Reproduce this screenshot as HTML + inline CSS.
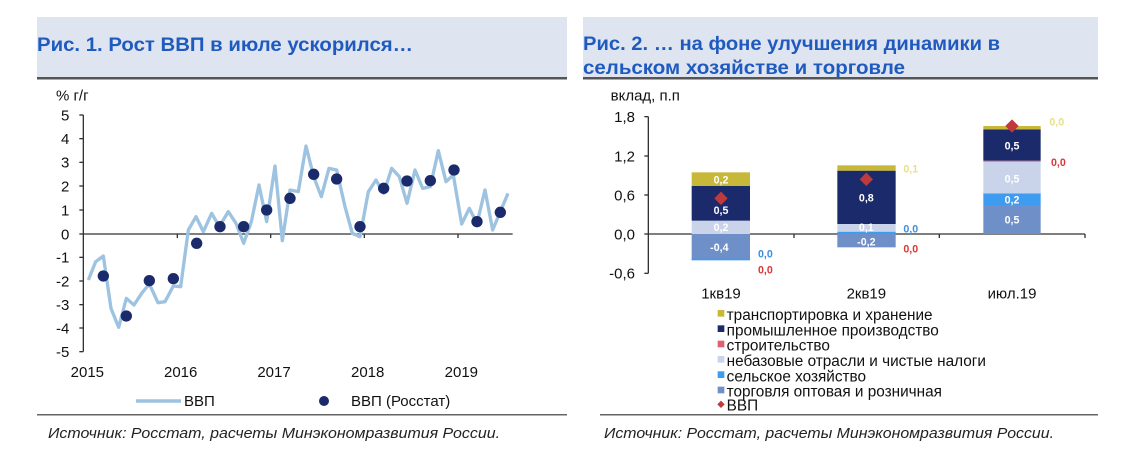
<!DOCTYPE html>
<html><head><meta charset="utf-8"><style>
body{margin:0;width:1134px;height:455px;background:#fff;overflow:hidden;font-family:"Liberation Sans","DejaVu Sans",sans-serif;}
svg{position:absolute;left:0;top:0}
</style></head><body>
<svg width="1134" height="455" viewBox="0 0 1134 455" xmlns="http://www.w3.org/2000/svg" font-family="Liberation Sans, DejaVu Sans, sans-serif">
<rect x="37" y="17" width="530" height="60" fill="#dfe4f1"/>
<rect x="583" y="17" width="515" height="60" fill="#dfe4f1"/>
<rect x="37" y="77" width="530" height="2.5" fill="#555"/>
<rect x="583" y="77" width="515" height="2.5" fill="#555"/>
<text x="37" y="51" font-size="19" font-weight="bold" fill="#1f5bbf" textLength="376" lengthAdjust="spacingAndGlyphs">Рис. 1. Рост ВВП в июле ускорился…</text>
<text x="583" y="50" font-size="19" font-weight="bold" fill="#1f5bbf" textLength="417" lengthAdjust="spacingAndGlyphs">Рис. 2. … на фоне улучшения динамики в</text>
<text x="583" y="74" font-size="19" font-weight="bold" fill="#1f5bbf" textLength="322" lengthAdjust="spacingAndGlyphs">сельском хозяйстве и торговле</text>
<rect x="37" y="414" width="530" height="1.5" fill="#666"/>
<rect x="600" y="414" width="498" height="1.5" fill="#666"/>
<text x="48" y="438" font-size="14.5" font-style="italic" fill="#222" textLength="452" lengthAdjust="spacingAndGlyphs">Источник: Росстат, расчеты Минэкономразвития России.</text>
<text x="604" y="438" font-size="14.5" font-style="italic" fill="#222" textLength="450" lengthAdjust="spacingAndGlyphs">Источник: Росстат, расчеты Минэкономразвития России.</text>

<!-- left chart -->
<g transform="translate(30,80) scale(0.33333)" font-size="45" fill="#111">
<text x="78" y="62">% г/г</text>
<line x1="160" y1="105" x2="160" y2="815" stroke="#333" stroke-width="4"/>
<g stroke="#333" stroke-width="4">
<line x1="148" y1="105" x2="160" y2="105"/><line x1="148" y1="176" x2="160" y2="176"/><line x1="148" y1="247" x2="160" y2="247"/><line x1="148" y1="318" x2="160" y2="318"/><line x1="148" y1="390" x2="160" y2="390"/><line x1="148" y1="462" x2="160" y2="462"/><line x1="148" y1="532" x2="160" y2="532"/><line x1="148" y1="603" x2="160" y2="603"/><line x1="148" y1="674" x2="160" y2="674"/><line x1="148" y1="744" x2="160" y2="744"/><line x1="148" y1="815" x2="160" y2="815"/>
<line x1="160" y1="462" x2="1448" y2="462"/>
<line x1="442" y1="462" x2="442" y2="474"/><line x1="722" y1="462" x2="722" y2="474"/><line x1="1003" y1="462" x2="1003" y2="474"/><line x1="1284" y1="462" x2="1284" y2="474"/>
</g>
<g text-anchor="end">
<text x="118" y="121">5</text><text x="118" y="192">4</text><text x="118" y="263">3</text><text x="118" y="334">2</text><text x="118" y="406">1</text><text x="118" y="478">0</text><text x="118" y="548">-1</text><text x="118" y="619">-2</text><text x="118" y="690">-3</text><text x="118" y="760">-4</text><text x="118" y="831">-5</text>
</g>
<g text-anchor="middle">
<text x="172" y="891">2015</text><text x="452" y="891">2016</text><text x="732" y="891">2017</text><text x="1013" y="891">2018</text><text x="1294" y="891">2019</text>
</g>
<polyline fill="none" stroke="#9dc3e0" stroke-width="10" stroke-linejoin="round" points="175,600 197,545 220,528 243,685 266,742 289,655 312,675 335,640 358,612 384,668 405,665 430,618 452,620 475,450 498,410 520,455 545,400 568,440 595,395 618,430 641,490 664,425 687,315 710,425 735,258 757,482 780,330 805,335 828,198 851,290 874,350 897,265 920,270 945,380 967,460 990,470 1015,335 1038,300 1061,340 1085,265 1108,290 1131,370 1155,270 1178,325 1201,320 1225,212 1248,305 1270,285 1295,432 1318,385 1341,430 1365,330 1388,450 1411,395 1434,340"/>
<g fill="#1b2a6b">
<circle cx="220" cy="588" r="17"/><circle cx="289" cy="708" r="17"/><circle cx="358" cy="602" r="17"/><circle cx="430" cy="596" r="17"/><circle cx="500" cy="490" r="17"/><circle cx="570" cy="440" r="17"/><circle cx="641" cy="440" r="17"/><circle cx="710" cy="390" r="17"/><circle cx="780" cy="355" r="17"/><circle cx="851" cy="283" r="17"/><circle cx="920" cy="297" r="17"/><circle cx="990" cy="440" r="17"/><circle cx="1061" cy="325" r="17"/><circle cx="1131" cy="303" r="17"/><circle cx="1201" cy="302" r="17"/><circle cx="1272" cy="270" r="17"/><circle cx="1341" cy="425" r="17"/><circle cx="1411" cy="397" r="17"/>
</g>
</g>
<line x1="136" y1="401" x2="181" y2="401" stroke="#9dc3e0" stroke-width="3.5"/>
<text x="184" y="406" font-size="15" fill="#111">ВВП</text>
<circle cx="324" cy="401" r="5" fill="#1b2a6b"/>
<text x="351" y="406" font-size="15" fill="#111">ВВП (Росстат)</text>

<!-- right chart -->
<g transform="translate(590,90) scale(0.33333)" font-size="45" fill="#111">
<text x="62" y="32">вклад, п.п</text>
<line x1="175" y1="80" x2="175" y2="550" stroke="#333" stroke-width="4"/>
<g stroke="#333" stroke-width="4">
<line x1="163" y1="80" x2="175" y2="80"/><line x1="163" y1="198" x2="175" y2="198"/><line x1="163" y1="315" x2="175" y2="315"/><line x1="163" y1="432" x2="175" y2="432"/><line x1="163" y1="550" x2="175" y2="550"/>
<line x1="175" y1="432" x2="1485" y2="432"/>
<line x1="612" y1="432" x2="612" y2="444"/><line x1="1048" y1="432" x2="1048" y2="444"/><line x1="1485" y1="432" x2="1485" y2="444"/>
</g>
<g text-anchor="end">
<text x="135" y="96">1,8</text><text x="135" y="214">1,2</text><text x="135" y="331">0,6</text><text x="135" y="448">0,0</text><text x="135" y="566">-0,6</text>
</g>
<g text-anchor="middle">
<text x="393" y="626">1кв19</text><text x="829" y="626">2кв19</text><text x="1266" y="626">июл.19</text>
</g>
<rect x="305" y="432" width="175" height="78" fill="#6e8fc7"/>
<rect x="305" y="506" width="175" height="5" fill="#3d9bf0"/>
<rect x="305" y="392" width="175" height="40" fill="#c9d3ea"/>
<rect x="305" y="288" width="175" height="104" fill="#1b2a6b"/>
<rect x="305" y="247" width="175" height="41" fill="#c8b83a"/>
<rect x="742" y="432" width="175" height="40" fill="#6e8fc7"/>
<rect x="742" y="425" width="175" height="7" fill="#3d9bf0"/>
<rect x="742" y="402" width="175" height="23" fill="#c9d3ea"/>
<rect x="742" y="242" width="175" height="160" fill="#1b2a6b"/>
<rect x="742" y="226" width="175" height="16" fill="#c8b83a"/>
<rect x="1180" y="345" width="172" height="87" fill="#6e8fc7"/>
<rect x="1180" y="310" width="172" height="35" fill="#3d9bf0"/>
<rect x="1180" y="215" width="172" height="95" fill="#c9d3ea"/>
<rect x="1180" y="212" width="172" height="3" fill="#e06070"/>
<rect x="1180" y="118" width="172" height="94" fill="#1b2a6b"/>
<rect x="1180" y="108" width="172" height="10" fill="#c8b83a"/>
<g text-anchor="middle" font-size="32" font-weight="bold" fill="#fff">
<text x="393" y="280">0,2</text><text x="393" y="372">0,5</text><text x="393" y="423">0,2</text><text x="388" y="483">-0,4</text>
<text x="829" y="334">0,8</text><text x="829" y="423">0,1</text><text x="829" y="466">-0,2</text>
<text x="1266" y="178">0,5</text><text x="1266" y="277">0,5</text><text x="1266" y="340">0,2</text><text x="1266" y="400">0,5</text>
</g>
<g font-size="32" font-weight="bold">
<text x="504" y="502" fill="#3d8fe0">0,0</text><text x="504" y="550" fill="#d83838">0,0</text>
<text x="940" y="248" fill="#e8df8a">0,1</text><text x="940" y="427" fill="#3d8fe0">0,0</text><text x="940" y="487" fill="#d83838">0,0</text>
<text x="1378" y="106" fill="#e8df8a">0,0</text><text x="1383" y="228" fill="#d83838">0,0</text>
</g>
<g fill="#c0393b">
<polygon points="393,305 413,325 393,345 373,325"/>
<polygon points="829,248 849,268 829,288 809,268"/>
<polygon points="1266,88 1286,108 1266,128 1246,108"/>
</g>
<g font-size="46">
<rect x="383" y="660" width="20" height="20" fill="#c8b83a"/><text x="410" y="690">транспортировка и хранение</text>
<rect x="383" y="706" width="20" height="20" fill="#1b2a6b"/><text x="410" y="736">промышленное производство</text>
<rect x="383" y="752" width="20" height="20" fill="#e06070"/><text x="410" y="782">строительство</text>
<rect x="383" y="798" width="20" height="20" fill="#c9d3ea"/><text x="410" y="828">небазовые отрасли и чистые налоги</text>
<rect x="383" y="844" width="20" height="20" fill="#3d9bf0"/><text x="410" y="874">сельское хозяйство</text>
<rect x="383" y="890" width="20" height="20" fill="#6e8fc7"/><text x="410" y="920">торговля оптовая и розничная</text>
<polygon points="393,932 404,943 393,954 382,943" fill="#c0393b"/><text x="410" y="962">ВВП</text>
</g>
</g>
</svg>
</body></html>
